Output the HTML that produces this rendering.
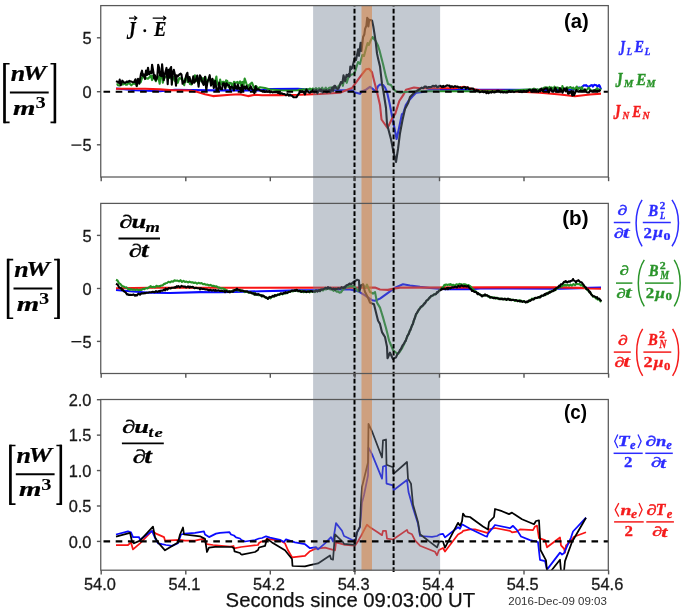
<!DOCTYPE html><html><head><meta charset="utf-8"><style>html,body{margin:0;padding:0;background:#fff;overflow:hidden}svg{display:block;will-change:transform}</style></head><body><svg width="685" height="611" viewBox="0 0 685 611">
<defs>
<clipPath id="c0"><rect x="100.9" y="5.6" width="507.4" height="171.4"/></clipPath>
<clipPath id="c1"><rect x="100.9" y="203.4" width="507.4" height="170.1"/></clipPath>
<clipPath id="c2"><rect x="100.9" y="399.5" width="507.4" height="170.70000000000005"/></clipPath>
</defs>
<rect width="685" height="611" fill="#ffffff"/>
<polyline clip-path="url(#c0)" points="116.0,88.5 135.0,90.3 160.0,91.2 175.0,89.8 190.0,90.0 215.0,90.4 260.0,90.4 270.0,89.0 298.0,88.8 320.0,90.5 340.0,90.3 352.0,90.3 355.0,92.6 360.0,93.8 362.0,91.5 366.0,89.7 370.0,86.8 373.0,89.1 376.0,92.0 378.0,86.2 380.0,84.5 383.0,85.0 385.0,87.4 387.0,92.0 389.5,103.0 392.0,116.0 394.7,129.3 396.6,139.0 399.3,126.7 401.9,114.2 403.2,113.6 405.8,105.0 408.4,101.0 412.4,96.5 416.3,92.6 422.8,92.0 430.0,89.7 490.0,89.7 560.0,90.1 575.0,89.5 576.0,89.2 577.0,88.7 578.2,87.7 579.1,87.5 580.8,87.9 581.7,87.3 583.4,85.8 584.2,85.2 585.1,85.6 586.0,85.0 587.6,86.5 589.5,86.4 591.3,85.2 592.0,85.1 592.8,86.6 594.2,84.9 594.9,84.9 596.5,85.3 597.5,86.7 599.1,85.0 599.8,86.1 601.0,89.3" fill="none" stroke="#0a0aff" stroke-width="2.1" stroke-linejoin="round" stroke-linecap="butt"/>
<polyline clip-path="url(#c0)" points="116.0,88.8 130.0,88.8 145.0,88.8 160.0,89.4 170.0,90.1 190.0,90.5 196.0,91.6 205.0,94.3 213.0,96.1 230.0,94.8 240.0,94.3 248.0,96.1 255.0,94.8 262.0,95.3 280.0,95.1 300.0,94.8 320.0,94.0 340.0,92.7 346.0,90.3 352.0,88.0 355.0,83.9 361.0,75.7 366.0,69.3 369.0,68.7 372.0,72.2 374.0,80.4 377.0,92.0 380.0,104.9 381.5,119.5 387.5,128.0 392.0,118.8 395.3,113.6 399.3,101.0 403.2,95.2 406.0,89.7 414.0,87.5 420.0,88.2 455.0,88.2 464.0,86.8 472.0,89.0 480.0,90.4 500.0,90.5 540.0,92.8 560.0,94.5 575.0,96.3 590.0,94.5 601.0,93.6" fill="none" stroke="#f81414" stroke-width="2.1" stroke-linejoin="round" stroke-linecap="butt"/>
<polyline clip-path="url(#c0)" points="117.0,83.4 117.9,85.2 119.4,85.6 121.0,83.8 121.8,82.9 122.5,84.5 123.6,84.2 125.0,83.2 125.9,84.8 127.1,84.7 128.7,82.3 129.8,83.8 131.3,85.3 132.6,84.2 134.0,83.3 135.0,84.0 135.9,82.3 136.8,86.2 138.4,80.3 139.5,79.6 140.7,82.3 142.3,77.1 143.1,76.7 144.4,77.7 146.0,78.4 146.8,78.2 148.0,78.8 149.2,77.5 150.8,75.4 152.1,80.1 152.9,75.8 154.3,77.6 155.9,81.2 157.2,77.3 158.1,76.2 159.7,83.8 160.6,73.1 161.5,72.6 162.8,82.7 164.2,77.1 165.5,77.4 166.5,76.5 168.1,75.9 169.2,77.8 170.9,78.5 172.3,78.5 173.4,77.1 174.5,80.3 175.6,81.7 176.4,79.5 177.8,82.8 179.3,78.0 180.5,78.7 182.0,77.9 183.1,81.4 184.2,85.2 185.3,78.8 186.6,77.3 187.5,82.0 188.3,77.8 189.9,83.9 191.6,84.5 192.9,78.7 193.8,80.1 194.9,75.2 196.0,78.6 196.8,81.3 197.6,80.7 198.9,80.5 200.1,79.9 201.5,81.3 203.0,78.1 203.9,81.0 205.5,76.9 206.7,83.6 207.9,81.0 208.8,79.9 210.2,80.5 211.2,83.0 212.3,80.5 213.6,80.3 214.8,83.6 216.4,76.5 217.2,83.8 218.8,85.6 220.1,79.6 221.3,84.4 222.6,81.9 223.9,81.9 225.3,87.0 226.1,80.4 227.3,80.9 228.6,87.1 229.7,82.7 231.3,83.2 232.7,87.1 234.0,81.8 235.3,82.7 236.6,82.6 237.4,81.9 238.3,83.3 239.1,83.1 240.1,81.4 240.9,85.3 242.3,81.9 243.1,87.8 244.7,78.5 246.4,83.6 247.9,87.4 248.8,85.3 252.0,82.6 254.0,88.0 256.0,86.0 258.0,88.5 260.0,87.2 265.0,88.0 270.0,89.5 280.0,90.3 290.0,90.5 298.0,90.3 300.0,89.6 302.0,89.9 303.2,89.1 305.0,89.9 306.2,89.0 308.1,89.8 309.9,88.5 311.2,90.0 312.7,88.5 314.8,89.6 315.9,88.0 317.4,89.6 318.9,88.2 320.9,89.6 322.2,87.7 323.9,90.3 325.8,87.7 327.1,90.2 329.2,87.8 331.0,87.5 332.4,88.3 333.3,86.9 334.3,88.0 335.9,88.2 336.7,87.2 337.7,87.4 338.9,85.4 339.9,85.1 340.7,83.3 341.8,82.7 342.9,85.8 343.7,81.5 344.9,81.2 345.7,79.5 346.8,82.8 348.1,78.2 349.4,75.4 350.4,75.4 351.1,74.7 352.6,74.3 353.4,74.1 354.4,73.2 355.4,70.7 358.0,62.0 360.0,64.0 362.3,55.0 364.0,56.0 366.4,47.0 367.6,43.0 368.8,45.0 370.4,41.0 372.5,37.0 373.7,38.6 375.8,41.1 377.8,45.2 379.4,50.1 381.5,58.3 383.0,64.0 386.0,76.9 388.0,83.9 391.0,85.0 393.0,88.5 396.0,91.5 400.0,92.6 405.0,92.0 420.0,91.2 500.0,91.2 528.0,89.5 530.0,89.4 531.2,89.5 532.3,90.1 534.0,88.6 535.0,89.3 535.9,90.1 537.6,89.3 538.7,89.9 540.4,89.0 541.9,89.5 542.8,88.4 544.6,87.5 545.7,87.4 547.5,87.5 548.6,89.3 549.5,86.9 550.2,89.6 551.2,87.4 552.3,87.8 553.5,89.7 554.5,86.7 555.6,90.2 556.4,87.6 558.0,87.6 559.1,89.4 559.8,90.2 561.7,90.3 562.4,86.0 564.0,90.2 565.5,88.9 566.4,87.6 567.5,87.2 568.2,88.5 569.8,87.2 570.6,87.0 571.5,88.3 572.4,88.6 573.1,87.5 575.1,89.5 576.7,86.5 578.0,89.5 578.7,88.0 580.5,87.7 581.2,89.3 582.1,87.2 582.9,90.5 584.3,89.8 586.1,90.4 587.8,88.8 588.7,87.7 590.5,90.2 592.2,90.5 593.6,90.3 594.6,90.6 595.3,90.6 596.8,88.2 597.6,88.5 598.4,90.3 599.8,90.6 600.7,88.4" fill="none" stroke="#259225" stroke-width="2.1" stroke-linejoin="round" stroke-linecap="butt"/>
<polyline clip-path="url(#c0)" points="116.0,81.1 117.4,81.7 119.0,82.8 119.7,79.6 120.8,85.2 122.3,80.7 123.1,81.5 124.3,82.7 125.5,82.8 126.5,81.6 128.0,81.9 129.4,80.9 130.3,81.6 130.9,81.4 132.4,82.0 134.0,82.3 135.5,79.3 136.7,85.9 138.0,78.9 139.4,83.7 140.9,74.1 142.0,70.7 142.8,75.8 143.8,74.4 145.0,79.1 146.0,70.5 147.0,75.0 148.0,67.7 149.1,74.3 150.7,71.4 151.4,73.2 152.1,64.7 153.5,72.8 154.2,78.5 154.9,75.3 155.8,80.2 157.2,77.5 158.2,64.7 159.2,68.0 160.0,75.4 161.4,76.2 162.1,64.4 163.7,80.2 164.9,74.1 166.5,67.9 167.7,84.1 168.6,69.8 169.4,77.3 170.2,68.7 171.1,67.0 171.8,84.6 172.9,72.7 173.8,69.8 174.9,74.6 176.0,85.7 176.7,75.4 177.8,76.2 179.2,74.7 180.7,73.6 181.5,74.7 182.6,83.8 183.6,81.4 184.7,82.3 186.3,75.0 187.4,72.8 188.5,81.8 189.5,77.1 190.5,81.0 192.1,83.6 193.3,76.2 194.3,82.8 195.7,80.4 197.2,75.6 198.6,86.7 199.9,75.3 200.9,77.0 202.3,82.2 203.7,84.9 205.0,76.9 206.3,89.8 207.5,81.7 208.4,79.5 209.7,75.2 211.0,85.6 212.4,78.7 213.8,88.0 215.2,80.8 216.7,91.0 218.1,90.3 219.2,82.6 220.4,89.0 222.0,89.2 223.1,83.3 224.4,83.6 225.3,88.8 226.6,83.3 227.7,85.3 229.0,85.3 230.3,89.6 231.4,86.6 232.7,87.6 234.0,90.3 234.7,83.9 235.4,88.3 236.2,86.5 237.1,88.9 237.8,84.5 239.1,89.0 240.3,87.7 241.0,92.4 242.1,85.0 242.9,90.3 244.3,86.5 245.6,88.8 246.4,86.0 247.6,88.7 249.2,89.8 250.6,86.2 251.9,89.0 253.1,90.1 254.3,93.2 255.6,86.2 256.6,89.9 257.4,89.4 258.6,89.3 259.8,90.2 262.0,91.2 263.5,90.6 265.0,91.9 266.5,91.1 268.0,91.8 269.5,91.0 270.0,92.5 271.0,91.4 272.5,92.5 274.0,91.9 275.5,92.3 277.0,92.1 278.0,93.0 278.5,92.6 280.0,93.7 281.5,93.2 283.0,94.0 284.5,94.0 286.0,95.3 287.5,94.0 289.0,95.7 290.0,94.5 290.5,95.4 292.0,95.7 293.5,97.2 295.0,97.3 296.5,97.1 298.0,94.8 299.5,92.8 300.0,91.1 301.0,92.0 302.5,91.3 304.0,92.7 305.0,94.4 306.4,89.5 307.2,91.5 308.3,91.7 309.1,92.6 309.9,92.8 311.0,91.7 312.3,91.5 313.3,89.6 314.3,92.4 315.0,92.0 316.2,89.6 317.4,93.4 318.8,90.6 319.8,89.6 320.7,91.2 321.4,89.5 322.6,92.5 323.7,90.4 324.5,90.6 325.4,91.7 326.2,89.9 326.9,92.5 328.1,90.6 329.5,90.0 330.4,92.3 331.3,89.9 332.2,87.6 333.0,90.9 334.3,85.9 335.2,85.9 336.4,88.3 337.9,89.1 338.6,88.3 339.6,85.8 340.9,82.0 342.4,83.0 343.5,75.4 345.1,81.0 346.6,74.7 347.6,76.3 348.7,74.2 349.5,76.6 350.3,66.5 351.1,69.2 352.2,67.8 354.9,57.4 356.0,60.0 358.2,49.3 359.0,55.8 360.6,42.7 361.5,50.9 363.1,37.0 364.3,34.5 365.1,28.8 366.4,25.6 367.2,17.8 368.0,19.0 368.4,26.4 369.2,19.8 371.3,20.2 372.1,20.6 373.3,26.4 374.5,33.8 375.8,42.7 377.0,53.4 378.2,59.1 380.0,66.4 382.0,83.9 383.5,92.0 386.0,108.0 387.0,124.0 390.8,138.4 393.4,151.5 396.0,162.0 398.0,149.0 400.0,133.2 402.5,120.0 405.0,109.0 408.4,102.4 410.0,97.0 412.0,95.0 415.0,92.0 420.0,89.0 421.0,88.2 421.8,87.6 423.2,88.2 424.7,86.5 426.1,86.6 426.9,87.8 427.7,87.7 428.4,87.0 430.0,87.1 431.5,86.9 432.9,85.7 434.3,86.5 435.3,85.8 436.1,85.6 437.1,87.1 438.2,86.9 439.2,86.1 440.4,85.7 441.9,87.1 443.3,85.9 443.9,86.9 445.6,86.2 447.0,85.3 448.4,85.7 449.5,85.5 450.4,87.3 451.8,86.2 453.5,87.1 455.0,86.1 455.9,86.7 457.6,86.5 458.5,87.4 459.3,87.5 460.2,87.3 461.2,88.3 461.9,88.3 463.4,87.2 465.1,87.1 465.8,88.8 467.1,87.4 467.9,87.3 468.6,88.7 469.6,89.0 471.3,88.5 473.0,88.5 474.6,90.5 475.6,91.0 476.5,90.0 477.3,91.4 478.0,90.3 479.6,92.2 481.1,91.7 482.6,91.2 483.6,92.3 485.2,91.5 486.4,93.2 487.7,91.7 488.6,93.1 490.1,92.0 491.3,92.7 492.5,91.2 493.3,92.3 494.8,92.4 495.9,91.8 497.0,90.8 498.8,90.9 499.9,91.5 500.9,92.4 501.7,91.5 503.3,92.5 504.3,91.9 506.0,92.5 507.4,92.5 509.2,90.9 510.7,91.9 512.4,91.2 514.0,92.1 515.5,91.5 516.9,91.5 518.5,91.3 519.3,91.6 520.2,91.6 520.9,90.9 521.9,92.2 523.4,90.9 524.3,91.0 526.0,91.9 526.6,90.8 527.7,91.5 528.4,90.1 530.0,89.9 532.0,91.5 532.7,89.6 534.3,90.0 535.8,89.6 536.6,91.1 538.2,91.9 539.6,89.8 540.3,91.3 541.3,88.6 542.7,90.9 543.3,89.9 544.7,88.7 545.5,88.4 547.2,88.4 548.8,92.5 550.7,88.3 552.3,91.7 553.6,91.6 555.3,87.8 557.1,91.8 559.0,91.6 559.9,88.0 560.8,89.1 562.6,92.7 564.2,88.4 565.7,91.4 566.6,88.3 568.1,93.8 569.7,93.0 571.3,91.1 572.3,95.6 573.1,91.2 574.0,95.3 575.2,92.5 576.4,90.0 577.1,91.3 578.7,91.8 580.4,90.4 582.0,91.2 583.9,90.9 585.0,89.4 585.8,91.1 587.0,92.4 588.9,92.5 590.4,90.5 591.9,91.2 593.2,91.3 594.6,90.2 595.4,90.5 596.9,91.1 598.2,90.9 598.9,91.2 600.4,89.8" fill="none" stroke="#000000" stroke-width="2.1" stroke-linejoin="round" stroke-linecap="butt"/>
<polyline clip-path="url(#c1)" points="116.0,290.0 130.0,291.3 150.0,292.7 170.0,293.0 200.0,292.1 220.0,292.3 260.0,291.3 300.0,290.4 315.0,290.4 320.0,289.9 328.0,287.9 340.0,289.5 350.0,289.5 358.0,291.2 365.0,295.3 372.0,300.2 375.0,300.7 380.0,298.6 388.0,292.8 395.0,287.6 403.0,284.3 410.0,285.5 420.0,286.9 430.0,288.0 445.0,289.1 470.0,289.1 480.0,288.5 560.0,288.6 580.0,288.2 590.0,287.8 601.0,287.6" fill="none" stroke="#0a0aff" stroke-width="2.1" stroke-linejoin="round" stroke-linecap="butt"/>
<polyline clip-path="url(#c1)" points="116.0,288.3 150.0,287.8 375.0,287.6 380.0,289.5 388.0,289.9 395.0,288.4 400.0,287.6 500.0,287.4 560.0,287.4 580.0,287.9 590.0,288.5 601.0,288.8" fill="none" stroke="#f81414" stroke-width="2.1" stroke-linejoin="round" stroke-linecap="butt"/>
<polyline clip-path="url(#c1)" points="116.0,279.8 117.5,280.5 119.0,283.2 120.5,284.2 122.0,286.0 123.5,286.4 125.0,287.5 126.5,287.3 128.0,289.2 129.5,288.8 130.0,289.9 131.0,289.1 132.5,289.8 134.0,289.5 135.5,290.1 137.0,289.4 138.5,290.3 140.0,289.7 141.5,289.9 143.0,288.8 144.5,289.1 146.0,288.0 147.5,288.4 149.0,287.2 150.0,286.9 150.5,286.1 152.0,287.2 153.5,286.7 155.0,287.4 156.5,285.8 158.0,286.6 159.5,286.1 160.0,286.5 161.0,285.5 162.5,285.4 164.0,283.9 165.0,284.0 165.5,283.2 167.0,283.0 168.5,281.8 170.0,282.4 171.5,281.3 173.0,281.7 174.5,280.4 176.0,280.7 177.5,280.6 179.0,281.4 180.5,280.2 182.0,282.0 183.5,280.9 185.0,281.9 186.5,281.5 188.0,282.5 189.5,281.6 191.0,282.4 192.5,282.3 194.0,283.0 195.5,282.5 197.0,283.7 198.5,282.8 200.0,283.4 201.5,283.0 203.0,284.3 204.5,283.9 206.0,284.8 207.5,284.6 209.0,285.5 210.5,284.9 212.0,285.9 213.5,285.7 215.0,286.5 216.5,286.3 218.0,287.4 219.5,287.6 221.0,288.5 222.5,288.2 224.0,289.2 225.0,289.1 225.5,289.9 227.0,290.3 228.5,291.6 230.0,291.2 231.5,291.9 233.0,290.3 234.5,290.7 236.0,289.4 237.0,290.1 237.5,289.8 239.0,290.8 240.5,289.8 242.0,290.9 243.5,291.0 245.0,292.1 246.5,291.6 248.0,292.4 249.5,292.6 251.0,293.0 252.5,292.9 254.0,294.5 255.0,293.2 255.5,294.5 257.0,294.5 258.5,295.2 260.0,294.7 261.5,296.3 262.0,295.3 263.0,296.4 264.5,296.5 266.0,298.0 267.5,297.8 268.0,298.7 269.0,297.4 270.5,298.3 272.0,296.8 273.5,296.6 275.0,295.1 276.5,295.6 278.0,294.3 279.5,295.0 281.0,293.7 282.5,294.4 284.0,293.3 285.0,293.4 285.5,292.9 287.0,293.2 288.5,291.7 290.0,292.0 291.5,290.8 293.0,291.5 294.5,290.5 295.0,290.9 296.0,289.9 297.5,291.3 299.0,290.6 300.5,292.0 302.0,290.7 303.5,292.2 305.0,291.5 306.5,292.2 308.0,291.0 309.5,292.3 311.0,291.2 312.5,291.9 314.0,291.2 315.0,292.1 315.5,291.0 317.0,291.2 318.5,290.3 320.0,291.3 321.5,289.6 323.0,290.5 324.5,288.7 326.0,289.5 327.5,288.0 328.0,288.8 329.0,288.7 330.5,289.5 332.0,289.4 333.5,290.8 335.0,289.9 336.5,291.6 338.0,291.4 339.5,292.7 340.0,292.4 341.0,292.4 342.5,290.1 344.0,289.2 345.0,287.7 345.5,288.1 347.0,286.7 348.5,286.7 350.0,285.9 351.5,286.5 353.0,286.0 354.5,287.5 355.0,287.0 356.0,288.4 357.5,290.5 358.0,291.2 359.0,289.5 360.5,286.9 361.0,286.0 362.0,285.1 363.0,284.3 363.5,285.2 365.0,288.0 366.5,285.5 367.0,284.6 368.0,287.1 369.5,290.8 370.0,292.0 371.0,292.5 372.5,293.3 373.0,293.6 374.0,292.8 375.0,292.0 375.5,294.6 377.0,302.6 378.5,305.1 380.0,307.6 381.5,312.5 383.0,317.4 384.5,322.7 386.0,328.0 387.5,334.1 389.0,340.3 390.5,344.0 392.0,347.7 393.0,350.1 393.5,350.5 395.0,351.7 396.5,353.0 398.0,354.2 399.5,352.1 401.0,349.9 402.0,348.5 402.5,347.4 404.0,344.2 405.0,342.0 405.5,340.9 407.0,337.4 408.5,333.9 410.0,330.5 411.5,326.9 413.0,323.4 414.5,319.0 416.0,314.6 417.5,312.1 419.0,309.6 420.0,308.0 420.5,307.0 422.0,306.7 423.5,304.2 425.0,303.0 426.5,300.8 428.0,299.8 429.5,297.5 430.0,297.6 431.0,296.2 432.5,295.7 434.0,294.3 435.5,294.4 437.0,292.7 438.5,291.6 440.0,289.7 441.5,288.6 442.0,287.7 443.0,287.2 444.5,284.8 445.0,285.4 446.0,284.4 447.5,285.0 449.0,284.4 450.0,285.2 450.5,284.1 452.0,285.1 453.5,284.8 455.0,286.0 456.5,284.3 458.0,284.8 459.5,283.9 460.0,284.8 461.0,284.0 462.5,285.0 464.0,284.1 465.0,285.6 465.5,284.4 467.0,285.6 468.5,285.0 470.0,286.1 471.5,287.5 472.0,288.9 473.0,289.0 474.5,290.8 476.0,291.7 477.5,293.3 478.0,293.1 479.0,294.3 480.5,294.8 482.0,296.3 483.5,295.1 485.0,295.6 486.5,295.1 488.0,296.5 489.5,296.2 490.0,297.8 491.0,297.0 492.5,297.6 494.0,297.2 495.5,298.7 497.0,297.7 498.5,299.1 500.0,298.4 501.5,299.3 503.0,298.7 504.5,299.4 506.0,298.9 507.5,299.6 509.0,299.1 510.0,300.1 510.5,299.4 512.0,300.0 513.5,299.8 515.0,301.0 516.5,300.1 518.0,300.7 519.5,300.3 520.0,301.7 521.0,300.5 522.5,301.7 524.0,301.0 525.5,302.1 527.0,302.0 528.5,302.0 530.0,299.8 531.5,299.7 532.0,298.6 533.0,299.0 534.5,298.3 536.0,298.2 537.5,297.6 539.0,297.4 540.0,296.4 540.5,297.0 542.0,295.8 543.5,295.4 545.0,294.3 546.5,294.5 548.0,292.6 549.5,292.4 550.0,291.6 551.0,292.0 552.5,290.5 554.0,290.6 555.0,289.2 555.5,290.0 557.0,288.0 558.5,288.0 560.0,286.1 561.5,286.6 563.0,285.3 564.5,285.5 565.0,284.6 566.0,285.6 567.5,284.7 569.0,285.7 570.5,284.5 572.0,285.6 573.5,284.1 575.0,285.2 576.5,283.7 578.0,284.3 579.5,284.1 581.0,285.4 582.5,284.7 583.0,286.2 584.0,286.4 585.5,288.0 586.0,288.4 587.0,289.6 588.5,291.0 590.0,292.5 591.5,294.3 593.0,296.6 594.5,296.7 596.0,298.5 597.0,297.7 597.5,299.6 599.0,299.2 600.5,301.4 601.0,301.0" fill="none" stroke="#259225" stroke-width="2.1" stroke-linejoin="round" stroke-linecap="butt"/>
<polyline clip-path="url(#c1)" points="116.0,283.8 117.6,284.6 119.2,287.4 120.8,287.9 122.0,289.9 122.4,289.4 124.0,291.4 125.6,292.3 127.2,294.6 128.0,294.2 128.8,294.9 130.4,294.7 132.0,295.0 133.6,294.4 135.0,295.7 135.2,295.0 136.8,295.5 138.4,293.6 140.0,294.6 141.6,293.2 143.2,293.5 144.8,293.0 145.0,293.4 146.4,292.8 148.0,292.8 149.6,292.3 151.2,292.3 152.8,291.7 154.4,292.3 156.0,291.1 157.6,292.0 159.2,290.9 160.0,291.7 160.8,290.5 162.4,290.8 164.0,289.6 165.0,290.3 165.6,288.6 167.2,289.7 168.8,288.1 170.4,288.5 172.0,287.7 173.6,287.8 175.0,287.1 175.2,287.7 176.8,286.2 177.0,287.1 178.4,286.1 180.0,287.3 181.6,285.9 183.2,286.6 184.8,286.5 186.4,287.5 188.0,286.4 189.6,287.7 190.0,286.6 191.2,287.2 192.8,286.9 194.4,288.3 196.0,287.7 197.6,288.3 199.2,288.2 200.0,289.4 200.8,288.1 202.4,289.0 204.0,288.9 205.6,289.4 207.2,289.5 208.8,290.4 210.4,289.8 212.0,290.6 213.6,290.1 215.0,290.8 215.2,290.0 216.8,290.8 218.4,290.3 220.0,291.0 221.6,290.7 223.2,291.3 224.8,291.1 225.0,292.1 226.4,290.9 228.0,292.0 229.6,291.3 230.0,292.3 231.2,291.3 232.8,291.7 234.4,290.0 236.0,290.0 237.0,288.7 237.6,289.8 239.2,289.8 240.8,291.0 242.4,290.5 244.0,291.3 245.0,291.2 245.6,291.5 247.2,291.4 248.8,292.5 250.4,292.2 252.0,293.4 253.6,293.2 255.0,294.7 255.2,293.6 256.8,294.8 258.4,294.0 260.0,295.3 261.6,295.4 262.0,296.3 263.2,295.5 264.8,297.1 266.4,297.4 268.0,298.9 269.6,296.9 271.2,297.2 272.8,295.7 274.4,296.5 275.0,295.1 276.0,295.7 277.6,294.8 279.2,294.5 280.8,293.3 282.4,293.9 284.0,292.7 285.0,293.2 285.6,292.2 287.2,292.9 288.8,291.8 290.4,291.7 292.0,290.6 293.6,290.8 295.0,290.2 295.2,290.9 296.8,289.9 298.4,291.3 300.0,290.8 301.6,291.9 303.2,291.2 304.8,291.6 305.0,291.4 306.4,291.9 308.0,291.5 309.6,291.6 311.2,291.1 312.8,291.8 314.4,291.2 315.0,291.6 316.0,290.4 317.6,291.6 319.2,290.0 320.0,291.0 320.8,289.6 322.0,289.6 322.4,289.4 324.0,289.0 325.6,287.8 327.2,288.7 328.0,287.1 328.8,288.1 330.4,287.9 332.0,289.2 333.6,288.6 335.0,289.8 335.2,288.7 336.8,289.1 338.4,288.2 340.0,288.9 341.6,287.2 343.2,288.1 344.8,286.6 345.0,287.7 346.4,285.2 348.0,284.9 349.6,283.5 351.2,284.3 352.8,282.4 353.0,283.3 354.4,281.2 356.0,280.5 357.0,279.7 357.6,279.9 359.0,280.5 359.2,284.8 359.5,291.2 360.8,286.3 361.0,285.5 362.4,284.7 363.0,284.3 364.0,288.1 365.0,292.0 365.6,293.1 367.2,296.2 368.0,297.7 368.8,299.7 370.0,302.6 370.4,302.8 372.0,303.5 373.6,304.1 374.0,304.3 375.2,309.2 376.0,312.5 376.8,315.7 378.0,320.6 378.4,321.3 380.0,323.9 381.6,330.5 382.0,332.1 383.2,334.1 384.8,336.7 385.0,337.0 386.4,343.9 387.0,346.8 387.5,358.3 388.0,357.2 389.6,353.5 390.0,352.6 391.2,355.2 392.8,358.7 393.0,359.1 394.4,358.0 396.0,357.4 397.6,353.6 399.2,351.9 400.0,349.8 400.8,349.3 402.4,345.7 404.0,343.6 405.0,341.4 405.6,341.3 407.2,336.2 408.8,333.8 410.0,330.2 410.4,330.1 412.0,325.3 413.0,323.8 413.6,321.0 415.2,317.0 416.0,314.0 416.8,313.3 418.4,310.2 420.0,308.4 421.6,306.2 423.2,305.4 424.8,302.8 425.0,303.5 426.4,300.6 428.0,299.7 429.6,297.6 430.0,297.3 431.2,295.8 432.8,295.5 434.4,294.2 436.0,294.1 437.0,292.2 437.6,292.6 439.2,290.4 440.8,290.2 442.0,288.6 442.4,289.2 444.0,288.5 445.6,289.3 447.2,287.8 448.0,289.1 448.8,287.9 450.4,288.4 452.0,287.3 453.6,287.4 455.2,286.6 456.8,287.4 458.4,285.8 460.0,286.8 461.6,285.4 463.2,286.4 464.8,286.1 466.4,286.6 468.0,286.0 469.6,288.1 471.2,289.3 472.0,291.0 472.8,290.5 474.4,292.0 476.0,291.8 477.6,294.1 478.0,293.1 479.2,294.2 480.8,295.0 482.0,296.4 482.4,295.6 484.0,295.7 485.0,294.4 485.6,295.4 487.2,295.2 488.8,296.6 490.0,297.0 490.4,297.5 492.0,297.4 493.6,298.3 495.2,297.7 496.8,298.3 498.4,298.4 500.0,299.2 501.6,298.5 503.2,299.5 504.8,298.6 506.4,299.9 508.0,298.6 509.6,300.0 510.0,299.3 511.2,300.1 512.8,299.8 514.4,300.2 516.0,300.0 517.6,301.2 519.2,300.7 520.0,301.2 520.8,300.8 522.4,301.9 524.0,301.2 525.6,302.4 527.0,301.5 527.2,302.3 528.8,300.5 530.4,300.9 532.0,299.2 533.6,299.6 535.2,297.8 536.8,298.0 538.4,297.1 540.0,297.5 541.6,295.5 543.2,295.7 544.8,294.1 545.0,295.2 546.4,293.2 548.0,293.8 549.6,291.9 550.0,292.6 551.2,291.4 552.8,291.3 554.4,289.3 555.0,290.2 556.0,288.3 557.6,287.8 559.2,285.6 560.0,286.5 560.8,284.3 562.4,284.2 564.0,281.9 565.0,282.0 565.6,281.0 567.2,282.4 568.8,281.4 570.0,281.8 570.4,281.1 572.0,280.7 573.0,279.0 573.6,280.4 575.2,281.1 576.0,282.3 576.8,281.0 578.0,280.6 578.4,280.2 580.0,281.9 581.6,282.3 583.0,284.2 583.2,284.2 584.8,286.9 586.0,287.5 586.4,289.2 588.0,289.5 589.6,292.5 590.0,291.7 591.2,294.5 592.8,295.8 593.0,296.3 594.4,296.2 596.0,297.5 597.0,297.1 597.6,298.6 599.2,298.6 600.8,300.7 601.0,299.7" fill="none" stroke="#000000" stroke-width="2.1" stroke-linejoin="round" stroke-linecap="butt"/>
<polyline clip-path="url(#c2)" points="116.0,545.0 128.0,545.0 131.0,542.4 133.0,549.4 140.0,543.3 152.0,531.0 156.0,533.6 164.0,537.1 165.0,540.6 180.0,539.8 185.0,540.6 195.0,540.6 203.0,538.9 207.0,544.2 213.0,545.0 230.0,546.5 233.5,546.0 234.0,548.4 241.0,547.0 258.0,545.0 259.0,543.0 261.0,541.7 264.0,541.5 267.0,538.9 280.0,540.6 285.0,543.3 288.0,550.3 292.0,557.3 305.0,555.9 310.0,551.2 315.0,548.9 325.0,547.7 335.0,550.3 336.0,542.4 345.0,544.8 355.0,545.7 358.0,541.3 361.0,536.0 367.0,524.7 370.0,527.3 378.0,532.5 382.0,535.2 383.0,530.8 386.0,530.8 387.0,538.7 393.0,539.5 407.0,529.9 408.0,532.5 412.0,534.3 415.0,540.4 420.0,545.7 435.0,551.8 437.0,555.3 439.0,550.0 443.0,548.0 445.0,551.5 458.0,534.5 462.0,532.3 463.0,530.9 470.0,529.4 475.0,529.4 488.0,533.1 489.0,529.4 495.0,528.0 510.0,530.9 512.0,532.3 517.0,531.6 520.0,529.4 533.0,530.1 535.0,526.5 537.0,525.6 539.0,538.1 545.0,540.1 547.0,547.3 560.0,537.5 561.0,545.3 564.0,548.6 565.0,552.6 566.0,545.3 570.0,542.0 574.0,536.8 586.0,532.2" fill="none" stroke="#f81414" stroke-width="1.75" stroke-linejoin="round" stroke-linecap="butt"/>
<polyline clip-path="url(#c2)" points="116.0,534.5 128.0,531.4 131.0,532.4 133.0,537.1 139.0,537.1 140.0,539.8 152.0,531.0 155.0,538.0 158.0,543.3 162.0,544.2 166.0,545.0 172.0,545.9 178.0,543.3 181.0,534.5 185.0,533.6 195.0,532.8 204.0,531.4 205.0,534.5 209.0,537.1 216.0,533.6 220.0,532.8 229.5,532.2 231.0,534.5 234.0,535.5 236.0,537.3 240.0,538.5 241.5,540.0 245.0,541.5 255.0,540.0 259.0,538.5 262.0,538.0 266.0,536.3 270.0,537.7 280.0,539.8 284.0,541.9 286.0,539.4 295.0,542.4 305.0,544.2 310.0,548.2 316.0,547.1 318.0,549.4 325.0,543.3 331.0,537.1 333.0,541.5 336.0,523.1 342.0,530.8 344.0,536.0 355.0,541.3 357.0,532.5 360.0,527.3 362.0,502.8 364.0,495.0 368.0,475.5 368.5,447.6 372.0,454.2 382.0,478.7 383.0,466.5 386.0,465.6 386.5,483.6 393.0,485.3 393.5,490.2 407.0,480.0 408.5,492.0 413.0,508.0 418.0,523.8 420.0,536.0 432.0,536.9 437.0,536.0 440.0,534.3 443.0,533.8 445.0,537.4 458.0,527.2 460.0,528.7 462.0,524.3 470.0,528.7 485.0,536.0 487.0,536.7 488.0,533.8 495.0,525.0 510.0,528.2 513.0,525.8 517.0,530.1 521.0,536.5 530.0,540.1 538.0,542.0 539.0,551.2 540.0,559.8 545.0,561.1 547.0,569.6 560.0,552.6 562.0,554.5 564.0,553.2 571.0,537.5 573.0,531.5 586.0,517.7" fill="none" stroke="#0a0aff" stroke-width="1.75" stroke-linejoin="round" stroke-linecap="butt"/>
<polyline clip-path="url(#c2)" points="116.0,536.6 130.0,532.8 132.0,541.5 134.0,543.3 140.0,540.6 153.0,526.6 155.0,537.1 158.0,542.4 165.0,550.3 178.0,542.4 180.0,534.5 183.0,527.5 184.0,534.5 192.0,535.4 200.0,536.3 205.0,538.9 207.0,552.0 209.0,547.7 215.0,546.8 232.0,547.0 234.0,548.3 234.5,551.3 240.0,553.0 241.0,554.2 242.0,554.6 255.0,552.0 258.0,550.0 259.0,547.5 265.0,545.9 267.0,538.9 272.0,542.4 285.0,550.3 292.0,559.0 292.5,566.0 305.0,566.4 310.0,565.2 318.0,563.4 330.0,555.5 331.0,559.0 333.0,559.7 335.0,534.3 343.0,542.2 344.0,543.9 355.0,544.8 357.0,532.5 360.0,526.4 361.0,502.0 362.0,487.0 368.0,462.4 368.5,423.9 372.0,431.3 382.0,457.5 383.0,440.3 386.0,439.5 386.5,464.8 393.0,467.3 393.5,473.8 407.0,462.0 408.0,478.7 411.0,483.6 413.0,504.5 418.0,522.0 420.0,534.3 437.0,547.4 439.0,542.2 441.0,541.3 443.0,541.5 445.0,547.7 458.0,522.8 460.0,525.8 462.0,521.4 463.0,513.6 465.0,516.3 470.0,517.0 472.0,518.5 483.0,526.5 488.0,529.4 489.0,522.1 494.0,517.0 495.0,509.0 502.0,511.2 509.0,514.1 512.0,512.6 514.0,514.1 522.0,519.2 534.0,524.3 536.0,521.0 539.0,520.4 540.0,538.1 540.5,550.0 546.0,560.4 547.0,571.0 551.0,571.0 560.0,559.8 561.0,571.0 564.0,571.0 565.0,561.1 572.0,542.0 586.0,517.7" fill="none" stroke="#000000" stroke-width="1.75" stroke-linejoin="round" stroke-linecap="butt"/>
<rect x="313.1" y="5.6" width="127.0" height="564.6" fill="rgba(112,126,145,0.42)"/>
<rect x="361.5" y="5.6" width="10.5" height="564.6" fill="rgba(215,125,60,0.55)"/>
<line x1="354.5" y1="5.6" x2="354.5" y2="572" stroke="#000" stroke-width="2" stroke-dasharray="4.7 2.28" stroke-dashoffset="3.73"/>
<line x1="393.6" y1="5.6" x2="393.6" y2="572" stroke="#000" stroke-width="2" stroke-dasharray="4.7 2.28" stroke-dashoffset="3.73"/>
<line x1="100.9" y1="91.75" x2="608.3" y2="91.75" stroke="#000" stroke-width="2.1" stroke-dasharray="6.6 5.6" stroke-dashoffset="9.6"/>
<rect x="100.75" y="5.6" width="507.54999999999995" height="171.4" fill="none" stroke="#585858" stroke-width="1.25"/>
<line x1="101.2" y1="177.0" x2="101.2" y2="181.2" stroke="#555" stroke-width="1.4"/>
<line x1="185.8" y1="177.0" x2="185.8" y2="181.2" stroke="#555" stroke-width="1.4"/>
<line x1="270.3" y1="177.0" x2="270.3" y2="181.2" stroke="#555" stroke-width="1.4"/>
<line x1="354.9" y1="177.0" x2="354.9" y2="181.2" stroke="#555" stroke-width="1.4"/>
<line x1="439.5" y1="177.0" x2="439.5" y2="181.2" stroke="#555" stroke-width="1.4"/>
<line x1="524.0" y1="177.0" x2="524.0" y2="181.2" stroke="#555" stroke-width="1.4"/>
<line x1="608.6" y1="177.0" x2="608.6" y2="181.2" stroke="#555" stroke-width="1.4"/>
<rect x="100.75" y="203.4" width="507.54999999999995" height="170.1" fill="none" stroke="#585858" stroke-width="1.25"/>
<line x1="101.2" y1="373.5" x2="101.2" y2="377.7" stroke="#555" stroke-width="1.4"/>
<line x1="185.8" y1="373.5" x2="185.8" y2="377.7" stroke="#555" stroke-width="1.4"/>
<line x1="270.3" y1="373.5" x2="270.3" y2="377.7" stroke="#555" stroke-width="1.4"/>
<line x1="354.9" y1="373.5" x2="354.9" y2="377.7" stroke="#555" stroke-width="1.4"/>
<line x1="439.5" y1="373.5" x2="439.5" y2="377.7" stroke="#555" stroke-width="1.4"/>
<line x1="524.0" y1="373.5" x2="524.0" y2="377.7" stroke="#555" stroke-width="1.4"/>
<line x1="608.6" y1="373.5" x2="608.6" y2="377.7" stroke="#555" stroke-width="1.4"/>
<line x1="100.9" y1="541.4" x2="608.3" y2="541.4" stroke="#000" stroke-width="2.1" stroke-dasharray="6.6 5.6" stroke-dashoffset="9.6"/>
<rect x="100.75" y="399.5" width="507.54999999999995" height="170.70000000000005" fill="none" stroke="#585858" stroke-width="1.25"/>
<line x1="101.2" y1="570.2" x2="101.2" y2="574.4000000000001" stroke="#555" stroke-width="1.4"/>
<line x1="185.8" y1="570.2" x2="185.8" y2="574.4000000000001" stroke="#555" stroke-width="1.4"/>
<line x1="270.3" y1="570.2" x2="270.3" y2="574.4000000000001" stroke="#555" stroke-width="1.4"/>
<line x1="354.9" y1="570.2" x2="354.9" y2="574.4000000000001" stroke="#555" stroke-width="1.4"/>
<line x1="439.5" y1="570.2" x2="439.5" y2="574.4000000000001" stroke="#555" stroke-width="1.4"/>
<line x1="524.0" y1="570.2" x2="524.0" y2="574.4000000000001" stroke="#555" stroke-width="1.4"/>
<line x1="608.6" y1="570.2" x2="608.6" y2="574.4000000000001" stroke="#555" stroke-width="1.4"/>
<line x1="96.9" y1="37.8" x2="100.9" y2="37.8" stroke="#555" stroke-width="1.4"/><text x="91.5" y="44.099999999999994" text-anchor="end" font-family="Liberation Sans, sans-serif" font-size="16.4" fill="#1a1a1a" stroke="#1a1a1a" stroke-width="0.3">5</text>
<line x1="96.9" y1="91.7" x2="100.9" y2="91.7" stroke="#555" stroke-width="1.4"/><text x="91.5" y="98.0" text-anchor="end" font-family="Liberation Sans, sans-serif" font-size="16.4" fill="#1a1a1a" stroke="#1a1a1a" stroke-width="0.3">0</text>
<line x1="96.9" y1="144.8" x2="100.9" y2="144.8" stroke="#555" stroke-width="1.4"/><line x1="71.4" y1="145.10000000000002" x2="81.4" y2="145.10000000000002" stroke="#1a1a1a" stroke-width="1.35"/><text x="91.5" y="151.10000000000002" text-anchor="end" font-family="Liberation Sans, sans-serif" font-size="16.4" fill="#1a1a1a" stroke="#1a1a1a" stroke-width="0.3">5</text>
<line x1="96.9" y1="235.4" x2="100.9" y2="235.4" stroke="#555" stroke-width="1.4"/><text x="91.5" y="241.70000000000002" text-anchor="end" font-family="Liberation Sans, sans-serif" font-size="16.4" fill="#1a1a1a" stroke="#1a1a1a" stroke-width="0.3">5</text>
<line x1="96.9" y1="288.5" x2="100.9" y2="288.5" stroke="#555" stroke-width="1.4"/><text x="91.5" y="294.8" text-anchor="end" font-family="Liberation Sans, sans-serif" font-size="16.4" fill="#1a1a1a" stroke="#1a1a1a" stroke-width="0.3">0</text>
<line x1="96.9" y1="341.4" x2="100.9" y2="341.4" stroke="#555" stroke-width="1.4"/><line x1="71.4" y1="341.7" x2="81.4" y2="341.7" stroke="#1a1a1a" stroke-width="1.35"/><text x="91.5" y="347.7" text-anchor="end" font-family="Liberation Sans, sans-serif" font-size="16.4" fill="#1a1a1a" stroke="#1a1a1a" stroke-width="0.3">5</text>
<line x1="96.9" y1="399.7" x2="100.9" y2="399.7" stroke="#555" stroke-width="1.4"/><text x="91.5" y="406.0" text-anchor="end" font-family="Liberation Sans, sans-serif" font-size="16.4" fill="#1a1a1a" stroke="#1a1a1a" stroke-width="0.3">2.0</text>
<line x1="96.9" y1="435.13" x2="100.9" y2="435.13" stroke="#555" stroke-width="1.4"/><text x="91.5" y="441.43" text-anchor="end" font-family="Liberation Sans, sans-serif" font-size="16.4" fill="#1a1a1a" stroke="#1a1a1a" stroke-width="0.3">1.5</text>
<line x1="96.9" y1="470.56" x2="100.9" y2="470.56" stroke="#555" stroke-width="1.4"/><text x="91.5" y="476.86" text-anchor="end" font-family="Liberation Sans, sans-serif" font-size="16.4" fill="#1a1a1a" stroke="#1a1a1a" stroke-width="0.3">1.0</text>
<line x1="96.9" y1="505.99" x2="100.9" y2="505.99" stroke="#555" stroke-width="1.4"/><text x="91.5" y="512.29" text-anchor="end" font-family="Liberation Sans, sans-serif" font-size="16.4" fill="#1a1a1a" stroke="#1a1a1a" stroke-width="0.3">0.5</text>
<line x1="96.9" y1="541.42" x2="100.9" y2="541.42" stroke="#555" stroke-width="1.4"/><text x="91.5" y="547.7199999999999" text-anchor="end" font-family="Liberation Sans, sans-serif" font-size="16.4" fill="#1a1a1a" stroke="#1a1a1a" stroke-width="0.3">0.0</text>
<text x="99.9" y="589.5" text-anchor="middle" font-family="Liberation Sans, sans-serif" font-size="16.4" fill="#1a1a1a" stroke="#1a1a1a" stroke-width="0.3">54.0</text>
<text x="184.5" y="589.5" text-anchor="middle" font-family="Liberation Sans, sans-serif" font-size="16.4" fill="#1a1a1a" stroke="#1a1a1a" stroke-width="0.3">54.1</text>
<text x="269.0" y="589.5" text-anchor="middle" font-family="Liberation Sans, sans-serif" font-size="16.4" fill="#1a1a1a" stroke="#1a1a1a" stroke-width="0.3">54.2</text>
<text x="353.6" y="589.5" text-anchor="middle" font-family="Liberation Sans, sans-serif" font-size="16.4" fill="#1a1a1a" stroke="#1a1a1a" stroke-width="0.3">54.3</text>
<text x="438.2" y="589.5" text-anchor="middle" font-family="Liberation Sans, sans-serif" font-size="16.4" fill="#1a1a1a" stroke="#1a1a1a" stroke-width="0.3">54.4</text>
<text x="522.7" y="589.5" text-anchor="middle" font-family="Liberation Sans, sans-serif" font-size="16.4" fill="#1a1a1a" stroke="#1a1a1a" stroke-width="0.3">54.5</text>
<text x="607.3" y="589.5" text-anchor="middle" font-family="Liberation Sans, sans-serif" font-size="16.4" fill="#1a1a1a" stroke="#1a1a1a" stroke-width="0.3">54.6</text>
<text x="225.6" y="607" font-family="Liberation Sans, sans-serif" font-size="20.4" textLength="249.5" lengthAdjust="spacingAndGlyphs" fill="#111" stroke="#111" stroke-width="0.25">Seconds since 09:03:00 UT</text>
<text x="508.3" y="604.6" font-family="Liberation Sans, sans-serif" font-size="11.6" textLength="98.5" lengthAdjust="spacingAndGlyphs" fill="#333">2016-Dec-09 09:03</text>
<text transform="translate(563.89,27.64) scale(0.20268,0.20745)" font-family="Liberation Sans, sans-serif" font-weight="bold" font-style="normal" font-size="100" fill="#000">(a)</text>
<text transform="translate(562.27,225.04) scale(0.20593,0.20745)" font-family="Liberation Sans, sans-serif" font-weight="bold" font-style="normal" font-size="100" fill="#000">(b)</text>
<text transform="translate(563.96,419.24) scale(0.18839,0.20745)" font-family="Liberation Sans, sans-serif" font-weight="bold" font-style="normal" font-size="100" fill="#000">(c)</text>
<g transform="translate(0,0)"><path d="M9.6,63.8 H4.5 V122.4 H9.6" fill="none" stroke="#000" stroke-width="1.6"/><path d="M4.5,63 V123.2" stroke="#000" stroke-width="2.6"/><path d="M50.5,63.8 H54.9 V122.4 H50.5" fill="none" stroke="#000" stroke-width="1.6"/><path d="M54.9,63 V123.2" stroke="#000" stroke-width="2.6"/><text transform="translate(10.68,80.80) scale(0.25918,0.22766)" font-family="Liberation Serif, serif" font-weight="bold" font-style="italic" font-size="100" fill="#000" stroke="#000" stroke-width="1.03">n</text><text transform="translate(22.64,80.38) scale(0.26591,0.21045)" font-family="Liberation Serif, serif" font-weight="bold" font-style="italic" font-size="100" fill="#000" stroke="#000" stroke-width="1.05">W</text><line x1="9.9" y1="92.6" x2="48.7" y2="92.6" stroke="#000" stroke-width="2.0"/><text transform="translate(13.12,114.70) scale(0.28873,0.21702)" font-family="Liberation Serif, serif" font-weight="bold" font-style="italic" font-size="100" fill="#000" stroke="#000" stroke-width="0.99">m</text><text transform="translate(35.38,108.48) scale(0.20465,0.15970)" font-family="Liberation Serif, serif" font-weight="bold" font-style="normal" font-size="100" fill="#000">3</text></g>
<g transform="translate(3.6,195.8)"><path d="M9.6,63.8 H4.5 V122.4 H9.6" fill="none" stroke="#000" stroke-width="1.6"/><path d="M4.5,63 V123.2" stroke="#000" stroke-width="2.6"/><path d="M50.5,63.8 H54.9 V122.4 H50.5" fill="none" stroke="#000" stroke-width="1.6"/><path d="M54.9,63 V123.2" stroke="#000" stroke-width="2.6"/><text transform="translate(10.68,80.80) scale(0.25918,0.22766)" font-family="Liberation Serif, serif" font-weight="bold" font-style="italic" font-size="100" fill="#000" stroke="#000" stroke-width="1.03">n</text><text transform="translate(22.64,80.38) scale(0.26591,0.21045)" font-family="Liberation Serif, serif" font-weight="bold" font-style="italic" font-size="100" fill="#000" stroke="#000" stroke-width="1.05">W</text><line x1="9.9" y1="92.6" x2="48.7" y2="92.6" stroke="#000" stroke-width="2.0"/><text transform="translate(13.12,114.70) scale(0.28873,0.21702)" font-family="Liberation Serif, serif" font-weight="bold" font-style="italic" font-size="100" fill="#000" stroke="#000" stroke-width="0.99">m</text><text transform="translate(35.38,108.48) scale(0.20465,0.15970)" font-family="Liberation Serif, serif" font-weight="bold" font-style="normal" font-size="100" fill="#000">3</text></g>
<g transform="translate(5.9,381.7)"><path d="M9.6,63.8 H4.5 V122.4 H9.6" fill="none" stroke="#000" stroke-width="1.6"/><path d="M4.5,63 V123.2" stroke="#000" stroke-width="2.6"/><path d="M50.5,63.8 H54.9 V122.4 H50.5" fill="none" stroke="#000" stroke-width="1.6"/><path d="M54.9,63 V123.2" stroke="#000" stroke-width="2.6"/><text transform="translate(10.68,80.80) scale(0.25918,0.22766)" font-family="Liberation Serif, serif" font-weight="bold" font-style="italic" font-size="100" fill="#000" stroke="#000" stroke-width="1.03">n</text><text transform="translate(22.64,80.38) scale(0.26591,0.21045)" font-family="Liberation Serif, serif" font-weight="bold" font-style="italic" font-size="100" fill="#000" stroke="#000" stroke-width="1.05">W</text><line x1="9.9" y1="92.6" x2="48.7" y2="92.6" stroke="#000" stroke-width="2.0"/><text transform="translate(13.12,114.70) scale(0.28873,0.21702)" font-family="Liberation Serif, serif" font-weight="bold" font-style="italic" font-size="100" fill="#000" stroke="#000" stroke-width="0.99">m</text><text transform="translate(35.38,108.48) scale(0.20465,0.15970)" font-family="Liberation Serif, serif" font-weight="bold" font-style="normal" font-size="100" fill="#000">3</text></g>
<text transform="translate(126.70,39.04) scale(0.17925,0.25758)" font-family="Liberation Serif, serif" font-weight="bold" font-style="italic" font-size="100" fill="#000" stroke="#000" stroke-width="0.92">J</text>
<text transform="translate(153.99,35.80) scale(0.18571,0.20000)" font-family="Liberation Serif, serif" font-weight="bold" font-style="italic" font-size="100" fill="#000" stroke="#000" stroke-width="1.04">E</text>
<path d="M129,18.1 H136.6 M134.2,15.9 L136.8,18.1 L134.2,20.3" fill="none" stroke="#000" stroke-width="1.2"/>
<circle cx="144.8" cy="30.8" r="1.45" fill="#000"/>
<path d="M152.7,18.1 H165.6 M163.2,15.9 L165.8,18.1 L163.2,20.3" fill="none" stroke="#000" stroke-width="1.2"/>
<text transform="translate(119.39,227.82) scale(0.26905,0.18493)" font-family="Liberation Serif, serif" font-weight="bold" font-style="italic" font-size="100" fill="#000" stroke="#000" stroke-width="1.98">∂</text>
<text transform="translate(131.44,227.81) scale(0.26458,0.19362)" font-family="Liberation Serif, serif" font-weight="bold" font-style="italic" font-size="100" fill="#000" stroke="#000" stroke-width="1.31">u</text>
<text transform="translate(145.43,232.00) scale(0.18451,0.13830)" font-family="Liberation Serif, serif" font-weight="bold" font-style="italic" font-size="100" fill="#000" stroke="#000" stroke-width="1.24">m</text>
<line x1="118.5" y1="238.5" x2="160.0" y2="238.5" stroke="#000" stroke-width="1.8"/>
<text transform="translate(129.09,257.01) scale(0.26905,0.18630)" font-family="Liberation Serif, serif" font-weight="bold" font-style="italic" font-size="100" fill="#000" stroke="#000" stroke-width="1.98">∂</text>
<text transform="translate(140.98,257.20) scale(0.27407,0.21071)" font-family="Liberation Serif, serif" font-weight="bold" font-style="italic" font-size="100" fill="#000" stroke="#000" stroke-width="1.24">t</text>
<text transform="translate(122.19,432.72) scale(0.27143,0.18493)" font-family="Liberation Serif, serif" font-weight="bold" font-style="italic" font-size="100" fill="#000" stroke="#000" stroke-width="1.97">∂</text>
<text transform="translate(134.34,432.71) scale(0.26458,0.18511)" font-family="Liberation Serif, serif" font-weight="bold" font-style="italic" font-size="100" fill="#000" stroke="#000" stroke-width="1.33">u</text>
<text transform="translate(148.58,437.30) scale(0.17407,0.14643)" font-family="Liberation Serif, serif" font-weight="bold" font-style="italic" font-size="100" fill="#000" stroke="#000" stroke-width="1.25">t</text>
<text transform="translate(154.43,437.18) scale(0.18500,0.11667)" font-family="Liberation Serif, serif" font-weight="bold" font-style="italic" font-size="100" fill="#000" stroke="#000" stroke-width="1.33">e</text>
<line x1="121.9" y1="443.4" x2="163.8" y2="443.4" stroke="#000" stroke-width="1.8"/>
<text transform="translate(132.39,462.71) scale(0.26905,0.19041)" font-family="Liberation Serif, serif" font-weight="bold" font-style="italic" font-size="100" fill="#000" stroke="#000" stroke-width="1.96">∂</text>
<text transform="translate(144.28,462.90) scale(0.27407,0.21786)" font-family="Liberation Serif, serif" font-weight="bold" font-style="italic" font-size="100" fill="#000" stroke="#000" stroke-width="1.22">t</text>
<text transform="translate(618.70,54.90) scale(0.12642,0.20000)" font-family="Liberation Serif, serif" font-weight="bold" font-style="italic" font-size="100" fill="#2c2cff" stroke="#2c2cff" stroke-width="2.76">J</text>
<text transform="translate(626.79,55.10) scale(0.08596,0.10308)" font-family="Liberation Serif, serif" font-weight="bold" font-style="italic" font-size="100" fill="#2c2cff" stroke="#2c2cff" stroke-width="3.70">L</text>
<text transform="translate(634.54,52.20) scale(0.14127,0.15846)" font-family="Liberation Serif, serif" font-weight="bold" font-style="italic" font-size="100" fill="#2c2cff" stroke="#2c2cff" stroke-width="2.67">E</text>
<text transform="translate(644.69,55.10) scale(0.09123,0.10308)" font-family="Liberation Serif, serif" font-weight="bold" font-style="italic" font-size="100" fill="#2c2cff" stroke="#2c2cff" stroke-width="3.60">L</text>
<text transform="translate(615.50,87.20) scale(0.14151,0.20455)" font-family="Liberation Serif, serif" font-weight="bold" font-style="italic" font-size="100" fill="#2a942a" stroke="#2a942a" stroke-width="2.60">J</text>
<text transform="translate(624.11,87.40) scale(0.10538,0.10923)" font-family="Liberation Serif, serif" font-weight="bold" font-style="italic" font-size="100" fill="#2a942a" stroke="#2a942a" stroke-width="3.26">M</text>
<text transform="translate(636.15,84.60) scale(0.15079,0.16462)" font-family="Liberation Serif, serif" font-weight="bold" font-style="italic" font-size="100" fill="#2a942a" stroke="#2a942a" stroke-width="2.54">E</text>
<text transform="translate(646.60,87.40) scale(0.10108,0.10923)" font-family="Liberation Serif, serif" font-weight="bold" font-style="italic" font-size="100" fill="#2a942a" stroke="#2a942a" stroke-width="3.33">M</text>
<text transform="translate(613.50,119.20) scale(0.14151,0.20455)" font-family="Liberation Serif, serif" font-weight="bold" font-style="italic" font-size="100" fill="#f51c1c" stroke="#f51c1c" stroke-width="2.60">J</text>
<text transform="translate(622.39,119.40) scale(0.09342,0.10923)" font-family="Liberation Serif, serif" font-weight="bold" font-style="italic" font-size="100" fill="#f51c1c" stroke="#f51c1c" stroke-width="3.45">N</text>
<text transform="translate(632.14,116.60) scale(0.13651,0.16462)" font-family="Liberation Serif, serif" font-weight="bold" font-style="italic" font-size="100" fill="#f51c1c" stroke="#f51c1c" stroke-width="2.66">E</text>
<text transform="translate(642.50,119.40) scale(0.09868,0.10923)" font-family="Liberation Serif, serif" font-weight="bold" font-style="italic" font-size="100" fill="#f51c1c" stroke="#f51c1c" stroke-width="3.37">N</text>
<text transform="translate(617.42,215.26) scale(0.19286,0.14110)" font-family="Liberation Serif, serif" font-weight="bold" font-style="italic" font-size="100" fill="#2c2cff" stroke="#2c2cff" stroke-width="3.29">∂</text><line x1="613.8" y1="222.5" x2="630.3" y2="222.5" stroke="#2c2cff" stroke-width="1.5"/><text transform="translate(614.12,237.76) scale(0.19286,0.14247)" font-family="Liberation Serif, serif" font-weight="bold" font-style="italic" font-size="100" fill="#2c2cff" stroke="#2c2cff" stroke-width="3.28">∂</text><text transform="translate(622.67,237.90) scale(0.24444,0.16607)" font-family="Liberation Serif, serif" font-weight="bold" font-style="italic" font-size="100" fill="#2c2cff" stroke="#2c2cff" stroke-width="0.97">t</text><path d="M642.0999999999999,199.9 C634.1,211.9 634.1,234.3 642.0999999999999,246.3" fill="none" stroke="#2c2cff" stroke-width="1.5"/><text transform="translate(648.35,215.50) scale(0.14844,0.17077)" font-family="Liberation Serif, serif" font-weight="bold" font-style="italic" font-size="100" fill="#2c2cff" stroke="#2c2cff" stroke-width="2.19">B</text><text transform="translate(659.75,208.59) scale(0.11190,0.11212)" font-family="Liberation Serif, serif" font-weight="bold" font-style="normal" font-size="100" fill="#2c2cff" stroke="#2c2cff" stroke-width="2.68">2</text><text transform="translate(659.99,218.50) scale(0.08772,0.10615)" font-family="Liberation Serif, serif" font-weight="bold" font-style="italic" font-size="100" fill="#2c2cff" stroke="#2c2cff" stroke-width="3.09">L</text><line x1="642.8" y1="222.5" x2="670.8" y2="222.5" stroke="#2c2cff" stroke-width="1.5"/><text transform="translate(643.52,237.75) scale(0.16905,0.14848)" font-family="Liberation Serif, serif" font-weight="bold" font-style="normal" font-size="100" fill="#2c2cff" stroke="#2c2cff" stroke-width="1.89">2</text><text transform="translate(653.20,237.34) scale(0.17500,0.15522)" font-family="Liberation Serif, serif" font-weight="bold" font-style="italic" font-size="100" fill="#2c2cff" stroke="#2c2cff" stroke-width="1.82">μ</text><text transform="translate(663.44,240.41) scale(0.14048,0.09701)" font-family="Liberation Serif, serif" font-weight="bold" font-style="normal" font-size="100" fill="#2c2cff" stroke="#2c2cff" stroke-width="2.53">0</text><path d="M672.0,199.9 C680.6,211.9 680.6,234.3 672.0,246.3" fill="none" stroke="#2c2cff" stroke-width="1.5"/>
<text transform="translate(619.62,275.27) scale(0.19286,0.13425)" font-family="Liberation Serif, serif" font-weight="bold" font-style="italic" font-size="100" fill="#2a942a" stroke="#2a942a" stroke-width="3.36">∂</text><line x1="616.0" y1="283.1" x2="632.4" y2="283.1" stroke="#2a942a" stroke-width="1.5"/><text transform="translate(616.32,297.77) scale(0.19286,0.13425)" font-family="Liberation Serif, serif" font-weight="bold" font-style="italic" font-size="100" fill="#2a942a" stroke="#2a942a" stroke-width="3.36">∂</text><text transform="translate(624.88,297.90) scale(0.24074,0.15714)" font-family="Liberation Serif, serif" font-weight="bold" font-style="italic" font-size="100" fill="#2a942a" stroke="#2a942a" stroke-width="1.01">t</text><path d="M644.3,259.90000000000003 C636.3,271.90000000000003 636.3,294.29999999999995 644.3,306.29999999999995" fill="none" stroke="#2a942a" stroke-width="1.5"/><text transform="translate(648.65,275.50) scale(0.14688,0.16769)" font-family="Liberation Serif, serif" font-weight="bold" font-style="italic" font-size="100" fill="#2a942a" stroke="#2a942a" stroke-width="2.23">B</text><text transform="translate(659.72,268.59) scale(0.11905,0.11212)" font-family="Liberation Serif, serif" font-weight="bold" font-style="normal" font-size="100" fill="#2a942a" stroke="#2a942a" stroke-width="2.60">2</text><text transform="translate(660.30,279.40) scale(0.09892,0.12000)" font-family="Liberation Serif, serif" font-weight="bold" font-style="italic" font-size="100" fill="#2a942a" stroke="#2a942a" stroke-width="2.74">M</text><line x1="645.0" y1="283.1" x2="673.5" y2="283.1" stroke="#2a942a" stroke-width="1.5"/><text transform="translate(645.72,297.76) scale(0.16905,0.14091)" font-family="Liberation Serif, serif" font-weight="bold" font-style="normal" font-size="100" fill="#2a942a" stroke="#2a942a" stroke-width="1.94">2</text><text transform="translate(655.30,297.53) scale(0.17500,0.14627)" font-family="Liberation Serif, serif" font-weight="bold" font-style="italic" font-size="100" fill="#2a942a" stroke="#2a942a" stroke-width="1.87">μ</text><text transform="translate(665.58,300.41) scale(0.13095,0.09701)" font-family="Liberation Serif, serif" font-weight="bold" font-style="normal" font-size="100" fill="#2a942a" stroke="#2a942a" stroke-width="2.63">0</text><path d="M674.2,259.90000000000003 C682.2,271.90000000000003 682.2,294.29999999999995 674.2,306.29999999999995" fill="none" stroke="#2a942a" stroke-width="1.5"/>
<text transform="translate(617.91,344.86) scale(0.19524,0.14247)" font-family="Liberation Serif, serif" font-weight="bold" font-style="italic" font-size="100" fill="#f51c1c" stroke="#f51c1c" stroke-width="3.26">∂</text><line x1="613.8" y1="352.1" x2="630.8" y2="352.1" stroke="#f51c1c" stroke-width="1.5"/><text transform="translate(614.61,367.26) scale(0.19524,0.14110)" font-family="Liberation Serif, serif" font-weight="bold" font-style="italic" font-size="100" fill="#f51c1c" stroke="#f51c1c" stroke-width="3.27">∂</text><text transform="translate(623.28,367.40) scale(0.24074,0.16607)" font-family="Liberation Serif, serif" font-weight="bold" font-style="italic" font-size="100" fill="#f51c1c" stroke="#f51c1c" stroke-width="0.98">t</text><path d="M642.6999999999999,328.90000000000003 C634.7,340.90000000000003 634.7,363.9 642.6999999999999,375.9" fill="none" stroke="#f51c1c" stroke-width="1.5"/><text transform="translate(647.95,344.70) scale(0.14688,0.16769)" font-family="Liberation Serif, serif" font-weight="bold" font-style="italic" font-size="100" fill="#f51c1c" stroke="#f51c1c" stroke-width="2.23">B</text><text transform="translate(659.02,337.79) scale(0.11905,0.11061)" font-family="Liberation Serif, serif" font-weight="bold" font-style="normal" font-size="100" fill="#f51c1c" stroke="#f51c1c" stroke-width="2.61">2</text><text transform="translate(659.30,348.40) scale(0.10000,0.12000)" font-family="Liberation Serif, serif" font-weight="bold" font-style="italic" font-size="100" fill="#f51c1c" stroke="#f51c1c" stroke-width="2.73">N</text><line x1="643.4" y1="352.1" x2="671.3" y2="352.1" stroke="#f51c1c" stroke-width="1.5"/><text transform="translate(643.47,367.25) scale(0.18333,0.14848)" font-family="Liberation Serif, serif" font-weight="bold" font-style="normal" font-size="100" fill="#f51c1c" stroke="#f51c1c" stroke-width="1.81">2</text><text transform="translate(653.70,366.87) scale(0.17500,0.15373)" font-family="Liberation Serif, serif" font-weight="bold" font-style="italic" font-size="100" fill="#f51c1c" stroke="#f51c1c" stroke-width="1.83">μ</text><text transform="translate(663.99,369.91) scale(0.12857,0.09701)" font-family="Liberation Serif, serif" font-weight="bold" font-style="normal" font-size="100" fill="#f51c1c" stroke="#f51c1c" stroke-width="2.66">0</text><path d="M672.6,328.90000000000003 C680.6,340.90000000000003 680.6,363.9 672.6,375.9" fill="none" stroke="#f51c1c" stroke-width="1.5"/>
<path d="M617.8000000000001,434.5 L614.7,441.25 L617.8000000000001,448.0" fill="none" stroke="#2c2cff" stroke-width="1.3"/>
<text transform="translate(617.64,446.10) scale(0.19474,0.15538)" font-family="Liberation Serif, serif" font-weight="bold" font-style="italic" font-size="100" fill="#2c2cff" stroke="#2c2cff" stroke-width="2.00">T</text>
<text transform="translate(629.95,449.08) scale(0.12500,0.11667)" font-family="Liberation Serif, serif" font-weight="bold" font-style="italic" font-size="100" fill="#2c2cff" stroke="#2c2cff" stroke-width="2.48">e</text>
<path d="M638.0,434.5 L641.1,441.25 L638.0,448.0" fill="none" stroke="#2c2cff" stroke-width="1.3"/>
<line x1="613.6" y1="453.3" x2="642.7" y2="453.3" stroke="#2c2cff" stroke-width="1.5"/>
<text transform="translate(623.92,467.45) scale(0.16905,0.15455)" font-family="Liberation Serif, serif" font-weight="bold" font-style="normal" font-size="100" fill="#2c2cff" stroke="#2c2cff" stroke-width="1.85">2</text>
<text transform="translate(645.45,445.95) scale(0.21667,0.14521)" font-family="Liberation Serif, serif" font-weight="bold" font-style="italic" font-size="100" fill="#2c2cff" stroke="#2c2cff" stroke-width="3.04">∂</text>
<text transform="translate(655.93,446.10) scale(0.18571,0.14043)" font-family="Liberation Serif, serif" font-weight="bold" font-style="italic" font-size="100" fill="#2c2cff" stroke="#2c2cff" stroke-width="2.15">n</text>
<text transform="translate(666.25,449.08) scale(0.12500,0.11667)" font-family="Liberation Serif, serif" font-weight="bold" font-style="italic" font-size="100" fill="#2c2cff" stroke="#2c2cff" stroke-width="2.48">e</text>
<line x1="645.3" y1="453.3" x2="672.8" y2="453.3" stroke="#2c2cff" stroke-width="1.5"/>
<text transform="translate(651.09,467.46) scale(0.20476,0.13973)" font-family="Liberation Serif, serif" font-weight="bold" font-style="italic" font-size="100" fill="#2c2cff" stroke="#2c2cff" stroke-width="3.19">∂</text>
<text transform="translate(660.29,467.60) scale(0.20370,0.15357)" font-family="Liberation Serif, serif" font-weight="bold" font-style="italic" font-size="100" fill="#2c2cff" stroke="#2c2cff" stroke-width="1.96">t</text>
<path d="M618.8000000000001,503.09999999999997 L615.2,509.85 L618.8000000000001,516.6" fill="none" stroke="#f51c1c" stroke-width="1.3"/>
<text transform="translate(620.60,514.70) scale(0.19796,0.14043)" font-family="Liberation Serif, serif" font-weight="bold" font-style="italic" font-size="100" fill="#f51c1c" stroke="#f51c1c" stroke-width="2.07">n</text>
<text transform="translate(631.02,517.59) scale(0.13750,0.11458)" font-family="Liberation Serif, serif" font-weight="bold" font-style="italic" font-size="100" fill="#f51c1c" stroke="#f51c1c" stroke-width="2.38">e</text>
<path d="M639.0,503.09999999999997 L642.1,509.85 L639.0,516.6" fill="none" stroke="#f51c1c" stroke-width="1.3"/>
<line x1="614.1" y1="521.9" x2="643.7" y2="521.9" stroke="#f51c1c" stroke-width="1.5"/>
<text transform="translate(624.42,536.45) scale(0.16905,0.15303)" font-family="Liberation Serif, serif" font-weight="bold" font-style="normal" font-size="100" fill="#f51c1c" stroke="#f51c1c" stroke-width="1.86">2</text>
<text transform="translate(646.49,514.55) scale(0.20476,0.14658)" font-family="Liberation Serif, serif" font-weight="bold" font-style="italic" font-size="100" fill="#f51c1c" stroke="#f51c1c" stroke-width="3.13">∂</text>
<text transform="translate(655.68,514.70) scale(0.15965,0.15692)" font-family="Liberation Serif, serif" font-weight="bold" font-style="italic" font-size="100" fill="#f51c1c" stroke="#f51c1c" stroke-width="2.21">T</text>
<text transform="translate(666.75,517.59) scale(0.12500,0.11458)" font-family="Liberation Serif, serif" font-weight="bold" font-style="italic" font-size="100" fill="#f51c1c" stroke="#f51c1c" stroke-width="2.50">e</text>
<line x1="646.3" y1="521.9" x2="673.9" y2="521.9" stroke="#f51c1c" stroke-width="1.5"/>
<text transform="translate(652.09,536.47) scale(0.20476,0.13151)" font-family="Liberation Serif, serif" font-weight="bold" font-style="italic" font-size="100" fill="#f51c1c" stroke="#f51c1c" stroke-width="3.27">∂</text>
<text transform="translate(661.23,536.60) scale(0.22222,0.14464)" font-family="Liberation Serif, serif" font-weight="bold" font-style="italic" font-size="100" fill="#f51c1c" stroke="#f51c1c" stroke-width="1.91">t</text>
</svg></body></html>
